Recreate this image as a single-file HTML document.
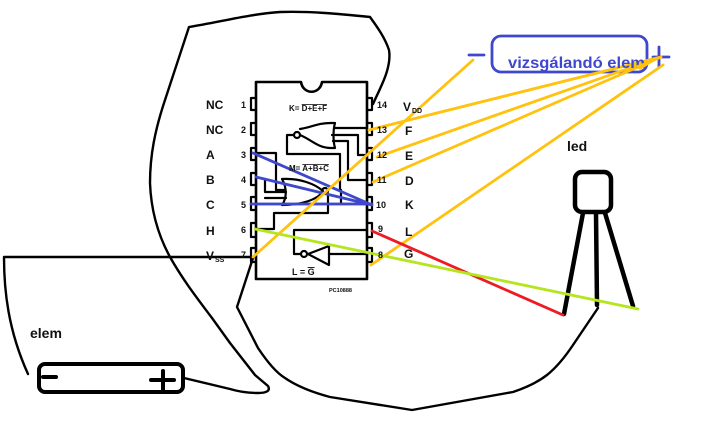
<!DOCTYPE html>
<html><head><meta charset="utf-8"><style>
html,body{margin:0;padding:0;background:#fff;width:703px;height:435px;overflow:hidden}
svg{display:block}
text{font-family:"Liberation Sans",sans-serif;font-weight:bold;fill:#111}
.l{font-size:12px}.n{font-size:9px}
</style></head><body>
<svg width="703" height="435" viewBox="0 0 703 435" xmlns="http://www.w3.org/2000/svg">
<g fill="none" stroke="#000" stroke-linejoin="round" stroke-linecap="round">
<!-- chip -->
<path stroke-width="2.6" d="M256 82H301C303 95 320 95 322 82H367V279H256Z"/>
<g stroke-width="2.2">
<path d="M256 98h-5v12h5M256 123h-5v12h5M256 148h-5v12h5M256 173h-5v12h5M256 197h-5v13h5M256 223h-5v14h5M256 248h-5v14h5"/>
<path d="M367 98h5v12h-5M367 123h5v12h-5M367 148h5v12h-5M367 173h5v12h-5M367 197h5v13h-5M367 223h5v14h-5M367 248h5v14h-5"/>
<!-- top NOR -->
<path d="M300 129C312 127 318 123 331 123H335C333 130 333 141 335 148H331C318 148 312 140 300 135"/>
<circle cx="297" cy="135" r="3"/>
<path d="M294 135H287V154H340V190"/>
<path d="M335 128H367M332 135H358V155H367M333 141H348V180H367"/>
<!-- lower NOR -->
<path d="M282 179C300 178 315 184 323 191C318 200 300 205 282 205C287 198 287 188 282 179Z"/>
<circle cx="325" cy="191" r="3"/>
<path d="M256 153H276V190H285M265 179V192H286M265 198H286M256 204H341V190M341 204H367"/>
<path d="M256 229H274V213H328V195"/>
<!-- buffer -->
<path d="M367 230H294V254H301M329 254H367"/>
<circle cx="304" cy="254" r="3"/>
<path d="M308 254L329 246V265Z"/>
</g>
<!-- hand wires -->
<g stroke-width="2.4">
<path d="M373 104C380 88 392 68 389 50C385 38 378 28 370 17C340 14 310 11 280 12C250 14 220 22 189 27L165 100C155 130 150 155 150 183C151 210 158 235 170 257C183 280 197 298 212 318L230 343L255 375L268 386C271 391 266 393 258 393C248 393 240 392 230 389L184 378"/>
<path d="M253 258L237 307L258 348C266 360 275 372 285 378C298 387 315 393 330 397L412 410L513 392C525 388 538 382 547 375C557 367 565 357 573 345L598 308"/>
<path d="M4 257H250M4 257C4 290 8 330 28 374"/>
</g>
<!-- battery -->
<rect x="39" y="364" width="144" height="28" rx="6" stroke-width="4"/>
<path stroke-width="4" d="M43 377H56M151 380H174M163 371V390"/>
<!-- LED -->
<rect x="575" y="172" width="36" height="40" rx="7" stroke-width="4.5"/>
<path stroke-width="4.5" d="M583 213L564 314M596 213L597 305M605 213L633 306"/>
<!-- coloured -->
<g stroke="#3f48cc" stroke-width="2.8">
<rect x="492" y="36" width="155" height="36" rx="9"/>
<path d="M469 55H484M653 57H669M659 47V67"/>
<path d="M253 153L372 205M256 177L372 205M251 204H372"/>
</g>
<g stroke="#ffc20e" stroke-width="2.8">
<path d="M473 60L253 257M661 57L369 130M661 57L377 157M661 57L373 182M663 65L371 265"/>
</g>
<path stroke="#ed1c24" stroke-width="2.8" d="M372 231L563 315"/>
<path stroke="#b5e61d" stroke-width="2.8" d="M255 229L638 309"/>
</g>
<text class="l" x="206" y="109">NC</text><text class="l" x="206" y="134">NC</text>
<text class="l" x="206" y="159">A</text><text class="l" x="206" y="184">B</text>
<text class="l" x="206" y="209">C</text><text class="l" x="206" y="235">H</text>
<text class="l" x="206" y="260">V</text><text x="215" y="262" style="font-size:7px">SS</text>
<text class="n" x="241" y="108">1</text><text class="n" x="241" y="133">2</text><text class="n" x="241" y="158">3</text>
<text class="n" x="241" y="183">4</text><text class="n" x="241" y="208">5</text><text class="n" x="241" y="233">6</text><text class="n" x="241" y="258">7</text>
<text class="n" x="377" y="108">14</text><text class="n" x="377" y="133">13</text><text class="n" x="377" y="158">12</text>
<text class="n" x="377" y="183">11</text><text class="n" x="376" y="208">10</text><text class="n" x="378" y="232">9</text><text class="n" x="378" y="258">8</text>
<text class="l" x="403" y="111">V</text><text x="412" y="113" style="font-size:7px">DD</text>
<text class="l" x="405" y="135">F</text><text class="l" x="405" y="160">E</text><text class="l" x="405" y="185">D</text>
<text class="l" x="405" y="209">K</text><text class="l" x="405" y="236">L</text><text class="l" x="404" y="258">G</text>
<text x="289" y="111" style="font-size:8px">K= <tspan text-decoration="overline">D+E+F</tspan></text>
<text x="289" y="171" style="font-size:8px">M= <tspan text-decoration="overline">A+B+C</tspan></text>
<text x="292" y="275" style="font-size:9px">L = <tspan text-decoration="overline">G</tspan></text>
<text x="329" y="292" style="font-size:5.5px">PC10888</text>
<text x="508" y="68" textLength="137" lengthAdjust="spacingAndGlyphs" style="font-size:16px;fill:#3f48cc">vizsgálandó elem</text>
<path d="M635 66L661 57L640 70Z" fill="#ffc20e"/>
<text x="30" y="338" style="font-size:14px">elem</text>
<text x="567" y="151" style="font-size:14px">led</text>
</svg>
</body></html>
